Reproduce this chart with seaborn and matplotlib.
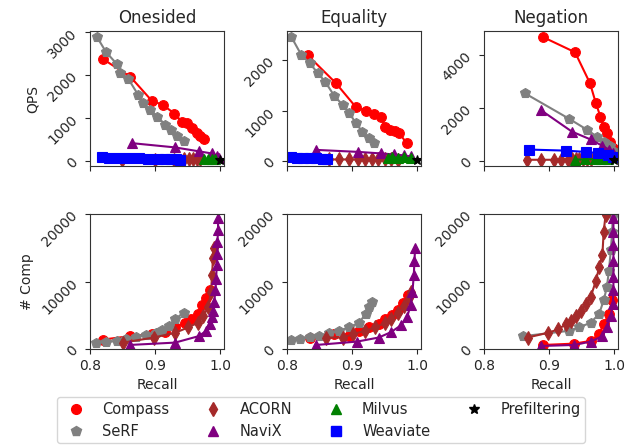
import matplotlib
matplotlib.use("Agg")
import matplotlib.pyplot as plt
from matplotlib.lines import Line2D
import seaborn as sns
import pandas as pd

# ---------------- data (recall, value) ----------------
methods = ["Compass", "SeRF", "ACORN", "NaviX", "Milvus", "Weaviate", "Prefiltering"]
colors = ["red", "gray", "brown", "purple", "green", "blue", "black"]
markers = ["o", "p", "d", "^", "^", "s", "*"]
panel_titles = ["Onesided", "Equality", "Negation"]

# Onesided QPS
os_qps_compass = [(0.820, 2370), (0.862, 1960), (0.895, 1400), (0.912, 1300), (0.930, 1100), (0.941, 910),
                  (0.949, 870), (0.957, 760), (0.964, 650), (0.970, 570), (0.976, 500)]
os_qps_serf = [(0.811, 2880), (0.825, 2530), (0.841, 2260), (0.847, 2050), (0.859, 1910), (0.874, 1540),
               (0.881, 1340), (0.893, 1190), (0.903, 1030), (0.916, 840), (0.924, 720), (0.934, 570), (0.944, 470)]
os_qps_acorn = [(0.850, 20), (0.900, 20), (0.930, 25), (0.945, 30), (0.952, 35), (0.958, 40), (0.964, 45), (0.970, 50)]
os_qps_navix = [(0.864, 410), (0.931, 310), (0.967, 220), (0.987, 170), (0.995, 120), (0.999, 60)]
os_qps_milvus = [(0.975, 30), (0.982, 40), (0.988, 50), (0.993, 45)]
os_qps_weaviate = [(0.818, 75), (0.830, 68), (0.845, 62), (0.860, 57), (0.875, 52), (0.890, 48), (0.905, 44),
                   (0.915, 40), (0.925, 36), (0.932, 32), (0.939, 28)]
os_qps_prefiltering = [(1.0, 25)]

# Equality QPS
eq_qps_compass = [(0.832, 2100), (0.875, 1550), (0.906, 1070), (0.921, 1000), (0.934, 940), (0.944, 880),
                  (0.951, 680), (0.959, 620), (0.966, 590), (0.973, 550), (0.984, 350)]
eq_qps_serf = [(0.807, 2460), (0.822, 2110), (0.835, 1940), (0.848, 1740), (0.859, 1570), (0.873, 1290),
               (0.886, 1110), (0.896, 950), (0.906, 750), (0.916, 580), (0.926, 450), (0.934, 350)]
eq_qps_acorn = [(0.865, 30), (0.880, 30), (0.896, 30), (0.910, 30), (0.920, 30), (0.930, 30), (0.940, 30),
                (0.950, 30), (0.960, 30), (0.970, 25)]
eq_qps_navix = [(0.845, 220), (0.910, 180), (0.944, 150), (0.965, 130), (0.980, 110), (0.990, 90)]
eq_qps_milvus = [(0.955, 60), (0.962, 80), (0.970, 60), (0.980, 70), (0.990, 50)]
eq_qps_weaviate = [(0.807, 70), (0.815, 65), (0.825, 60), (0.835, 55), (0.845, 50), (0.855, 45), (0.862, 40)]
eq_qps_prefiltering = [(1.0, 22)]

# Negation QPS
ng_qps_compass = [(0.891, 4660), (0.940, 4090), (0.963, 2920), (0.972, 2170), (0.979, 1660), (0.984, 1280),
                  (0.989, 1030), (0.994, 720), (0.998, 470), (1.0, 300)]
ng_qps_serf = [(0.863, 2540), (0.931, 1580), (0.959, 1160), (0.974, 900), (0.985, 720), (0.993, 550), (0.998, 350)]
ng_qps_acorn = [(0.866, 35), (0.888, 35), (0.908, 35), (0.919, 40), (0.929, 45), (0.936, 50), (0.941, 55),
                (0.946, 60), (0.952, 70), (0.958, 80), (0.965, 60)]
ng_qps_navix = [(0.888, 1900), (0.935, 1100), (0.964, 800), (0.982, 560), (0.992, 420), (0.998, 300)]
ng_qps_milvus = [(0.940, 40), (0.955, 50), (0.970, 60), (0.980, 70), (0.990, 50)]
ng_qps_weaviate = [(0.870, 420), (0.926, 380), (0.957, 330), (0.975, 290), (0.990, 220), (0.998, 140)]
ng_qps_prefiltering = [(1.0, 32)]

# Onesided # Comp
os_cmp_compass = [(0.820, 1400), (0.861, 1900), (0.896, 2200), (0.915, 2500), (0.931, 3200), (0.946, 3900),
                  (0.956, 4400), (0.966, 5200), (0.972, 6500), (0.979, 7600), (0.985, 8700)]
os_cmp_serf = [(0.810, 900), (0.825, 1000), (0.841, 1200), (0.856, 1500), (0.871, 1800), (0.886, 2100),
               (0.901, 2400), (0.911, 2800), (0.921, 3400), (0.931, 4400), (0.944, 5400)]
os_cmp_acorn = [(0.851, 950), (0.898, 1700), (0.931, 2400), (0.951, 3200), (0.966, 3900), (0.974, 4900),
                (0.982, 6200), (0.986, 8500), (0.988, 11000), (0.989, 13500), (0.990, 15000)]
os_cmp_navix = [(0.861, 600), (0.931, 950), (0.967, 1900), (0.979, 2700), (0.984, 3700), (0.987, 4700),
                (0.989, 5700), (0.991, 6900), (0.993, 8700), (0.994, 10400), (0.995, 12400), (0.996, 14100),
                (0.996, 15900), (0.997, 17600), (0.997, 19400)]

# Equality # Comp
eq_cmp_compass = [(0.835, 1700), (0.873, 2200), (0.895, 2000), (0.911, 2700), (0.926, 3200), (0.941, 3700),
                  (0.951, 4400), (0.961, 5000), (0.971, 5800), (0.979, 6800), (0.986, 8000)]
eq_cmp_serf = [(0.807, 1300), (0.820, 1500), (0.835, 1800), (0.850, 2000), (0.865, 2300), (0.880, 2700),
               (0.896, 3200), (0.911, 3900), (0.921, 5200), (0.926, 6200), (0.930, 7000)]
eq_cmp_acorn = [(0.860, 1700), (0.886, 1700), (0.901, 2200), (0.920, 2700), (0.935, 3200), (0.950, 3800),
                (0.960, 4500), (0.970, 5300), (0.980, 6300), (0.987, 7500), (0.990, 8500)]
eq_cmp_navix = [(0.845, 600), (0.908, 1100), (0.941, 1700), (0.960, 2500), (0.975, 3500), (0.985, 4800),
                (0.990, 6500), (0.993, 8500), (0.995, 11000), (0.996, 13000), (0.997, 15000)]

# Negation # Comp
ng_cmp_compass = [(0.891, 600), (0.939, 800), (0.964, 1200), (0.977, 2200), (0.984, 3700), (0.992, 5200),
                  (0.997, 7200)]
ng_cmp_serf = [(0.860, 1900), (0.931, 2700), (0.946, 3200), (0.964, 3900), (0.977, 5200), (0.984, 7200),
               (0.989, 9200), (0.992, 11600), (0.995, 14600), (0.997, 17400), (0.998, 19900)]
ng_cmp_acorn = [(0.867, 1700), (0.898, 2400), (0.914, 2900), (0.926, 3700), (0.934, 4200), (0.941, 4900),
                (0.949, 5700), (0.957, 6700), (0.964, 7700), (0.972, 10100), (0.977, 12100), (0.982, 13900),
                (0.984, 17400), (0.987, 19900)]
ng_cmp_navix = [(0.888, 450), (0.939, 600), (0.964, 1100), (0.982, 1900), (0.989, 3200), (0.995, 4900),
                (0.998, 6700), (0.999, 8700), (0.999, 10700), (0.999, 13100), (0.999, 15400), (0.999, 17400),
                (0.999, 19400)]

qps_panels = [
    [os_qps_compass, os_qps_serf, os_qps_acorn, os_qps_navix, os_qps_milvus, os_qps_weaviate, os_qps_prefiltering],
    [eq_qps_compass, eq_qps_serf, eq_qps_acorn, eq_qps_navix, eq_qps_milvus, eq_qps_weaviate, eq_qps_prefiltering],
    [ng_qps_compass, ng_qps_serf, ng_qps_acorn, ng_qps_navix, ng_qps_milvus, ng_qps_weaviate, ng_qps_prefiltering],
]
cmp_panels = [
    [os_cmp_compass, os_cmp_serf, os_cmp_acorn, os_cmp_navix],
    [eq_cmp_compass, eq_cmp_serf, eq_cmp_acorn, eq_cmp_navix],
    [ng_cmp_compass, ng_cmp_serf, ng_cmp_acorn, ng_cmp_navix],
]
qps_yticks = [[0, 1000, 2000, 3000], [0, 1000, 2000], [0, 2000, 4000]]
cmp_yticks = [0, 10000, 20000]
x_ticks = [0.8, 0.9, 1.0]

# ---------------- plotting ----------------
sns.set_style("ticks")
plt.rcParams["font.family"] = ["DejaVu Sans"]

fig, axes = plt.subplots(2, 3, figsize=(6.42, 4.45), dpi=100, sharex="col")
fig.subplots_adjust(left=0.140, right=0.9626, top=0.9303, bottom=0.2157, wspace=0.47, hspace=0.356)


def draw(ax, series_list):
    for i, pts in enumerate(series_list):
        df = pd.DataFrame(pts, columns=["recall", "value"])
        sns.lineplot(data=df, x="recall", y="value", ax=ax, sort=False, estimator=None,
                     color=colors[i], marker=markers[i], markersize=7,
                     markeredgecolor=colors[i], markeredgewidth=0.8, linewidth=1.5)


for j in range(3):
    ax = axes[0, j]
    draw(ax, qps_panels[j])
    ax.set_title(panel_titles[j], fontsize=12)
    ax.set_yticks(qps_yticks[j])
    ax.set_xlabel("")
    ax.set_ylabel("QPS" if j == 0 else "", fontsize=10)

    ax2 = axes[1, j]
    draw(ax2, cmp_panels[j])
    ax2.set_ylim(0, 20000)
    ax2.set_yticks(cmp_yticks)
    ax2.set_xlabel("Recall", fontsize=10)
    ax2.set_ylabel("# Comp" if j == 0 else "", fontsize=10)
    ax2.set_xlim(0.8, 1.006)
    ax2.set_xticks(x_ticks)

for ax in axes.flat:
    ax.tick_params(axis="both", labelsize=10)
    ax.tick_params(axis="y", labelrotation=45)
    for s in ax.spines.values():
        s.set_visible(True)
        s.set_color("0.2")

handles = [Line2D([], [], linestyle="none", marker=markers[i], color=colors[i], markersize=7,
                  markeredgecolor=colors[i]) for i in range(len(methods))]
fig.legend(handles, methods, loc="upper center", bbox_to_anchor=(0.5, 1 - 390 / 445), ncol=4,
           fontsize=10.5, frameon=True, borderpad=0.3)

fig.savefig("out.png", dpi=100)
